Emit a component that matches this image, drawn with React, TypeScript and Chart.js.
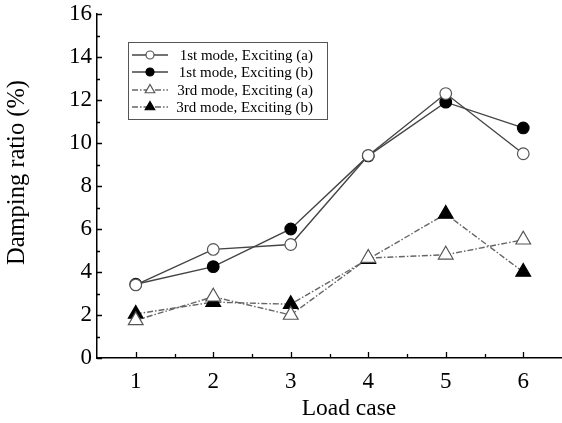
import React, { useEffect, useRef } from "react";
import { Chart, registerables } from "chart.js";

Chart.register(...registerables);

const loadCases = [1, 2, 3, 4, 5, 6];
const mode1A = [3.4, 5.05, 5.28, 9.42, 12.3, 9.5];
const mode1B = [3.43, 4.25, 6.0, 9.4, 11.9, 10.7];
const mode3A = [1.75, 2.85, 2.0, 4.65, 4.8, 5.5];
const mode3B = [2.05, 2.6, 2.5, 4.6, 6.7, 4.0];
const seriesLabels = [
  "1st mode, Exciting (a)",
  "1st mode, Exciting (b)",
  "3rd mode, Exciting (a)",
  "3rd mode, Exciting (b)",
];
const xTitle = "Load case";
const yTitle = "Damping ratio (%)";
const xTickValues = [1, 2, 3, 4, 5, 6];
const xMinorTicks = [1.5, 2.5, 3.5, 4.5, 5.5];
const yTickValues = [0, 2, 4, 6, 8, 10, 12, 14, 16];
const yMinorTicks = [1, 3, 5, 7, 9, 11, 13, 15];

const FONT = "'Liberation Serif', 'Times New Roman', serif";

function drawMarker(ctx: CanvasRenderingContext2D, style: string, x: number, y: number, r: number, fill: string, stroke: string) {
  ctx.save();
  ctx.beginPath();
  if (style === "circle") {
    ctx.arc(x, y, r, 0, Math.PI * 2);
  } else {
    let a = 0;
    ctx.moveTo(x + Math.sin(a) * r, y - Math.cos(a) * r);
    a += (2 * Math.PI) / 3;
    ctx.lineTo(x + Math.sin(a) * r, y - Math.cos(a) * r);
    a += (2 * Math.PI) / 3;
    ctx.lineTo(x + Math.sin(a) * r, y - Math.cos(a) * r);
    ctx.closePath();
  }
  ctx.fillStyle = fill;
  ctx.fill();
  ctx.lineWidth = 1.2;
  ctx.strokeStyle = stroke;
  ctx.stroke();
  ctx.restore();
}

const decorPlugin = {
  id: "decor",
  afterDraw(chart: any) {
    const ctx = chart.ctx as CanvasRenderingContext2D;
    const xs = chart.scales.x;
    const ys = chart.scales.y;
    const area = chart.chartArea;
    ctx.save();
    ctx.strokeStyle = "#000";
    ctx.lineWidth = 1.3;
    ctx.beginPath();
    xTickValues.forEach((v) => {
      const px = Math.round(xs.getPixelForValue(v)) + 0.5;
      ctx.moveTo(px, area.bottom);
      ctx.lineTo(px, area.bottom - 6);
    });
    xMinorTicks.forEach((v) => {
      const px = Math.round(xs.getPixelForValue(v)) + 0.5;
      ctx.moveTo(px, area.bottom);
      ctx.lineTo(px, area.bottom - 4);
    });
    yTickValues.forEach((v) => {
      const py = Math.round(ys.getPixelForValue(v)) + 0.5;
      ctx.moveTo(area.left, py);
      ctx.lineTo(area.left + 5, py);
    });
    yMinorTicks.forEach((v) => {
      const py = Math.round(ys.getPixelForValue(v)) + 0.5;
      ctx.moveTo(area.left, py);
      ctx.lineTo(area.left + 3, py);
    });
    ctx.stroke();

    // axis titles
    ctx.fillStyle = "#000";
    ctx.font = `23.5px ${FONT}`;
    ctx.textAlign = "center";
    ctx.textBaseline = "alphabetic";
    ctx.fillText(xTitle, 349, 415);
    ctx.save();
    ctx.translate(24, 172.5);
    ctx.rotate(-Math.PI / 2);
    ctx.font = `24.5px ${FONT}`;
    ctx.fillText(yTitle, 0, 0);
    ctx.restore();

    // legend
    const bx = 128, by = 42, bw = 199, bh = 77;
    ctx.fillStyle = "#fff";
    ctx.fillRect(bx, by, bw, bh);
    ctx.strokeStyle = "#555";
    ctx.lineWidth = 1;
    ctx.strokeRect(bx + 0.5, by + 0.5, bw, bh);
    const rowY = [55, 72, 90, 107];
    chart.data.datasets.forEach((ds: any, i: number) => {
      const y = rowY[i];
      ctx.save();
      ctx.strokeStyle = ds.borderColor;
      ctx.lineWidth = ds.borderWidth;
      ctx.setLineDash(ds.borderDash || []);
      ctx.beginPath();
      ctx.moveTo(132, y);
      ctx.lineTo(168, y);
      ctx.stroke();
      ctx.restore();
      drawMarker(ctx, ds.pointStyle, 150, y, ds.pointStyle === "circle" ? 4 : 5.5, ds.pointBackgroundColor, ds.pointBorderColor);
      ctx.fillStyle = "#000";
      ctx.font = `15px ${FONT}`;
      ctx.textAlign = "right";
      ctx.textBaseline = "middle";
      ctx.fillText(ds.label, 313, y + 1);
    });
    ctx.restore();
  },
};

export default function App() {
  const ref = useRef<HTMLCanvasElement>(null);
  useEffect(() => {
    if (!ref.current) return;
    const mk = (label: string, data: number[], style: string, filled: boolean, dashed: boolean) => ({
      label,
      data: data.map((v, i) => ({ x: loadCases[i], y: v })),
      borderColor: dashed ? "#666" : "#444",
      borderWidth: 1.4,
      borderDash: dashed ? [6, 2, 1.5, 2] : [],
      pointStyle: style,
      pointRadius: style === "circle" ? 5.8 : 8.5,
      pointBackgroundColor: filled ? "#000" : "#fff",
      pointBorderColor: filled ? "#000" : "#555",
      pointBorderWidth: 1.2,
      tension: 0,
      clip: false,
    });
    const chart = new Chart(ref.current, {
      type: "line",
      data: {
        datasets: [
          mk(seriesLabels[0], mode1A, "circle", false, false),
          mk(seriesLabels[1], mode1B, "circle", true, false),
          mk(seriesLabels[2], mode3A, "triangle", false, true),
          mk(seriesLabels[3], mode3B, "triangle", true, true),
        ] as any,
      },
      options: {
        animation: false,
        responsive: false,
        layout: { autoPadding: false, padding: { top: 14, right: 0, left: 0, bottom: 0 } },
        plugins: { legend: { display: false }, tooltip: { enabled: false } },
        scales: {
          x: {
            type: "linear",
            min: 0.5,
            max: 6.5,
            afterBuildTicks: (s: any) => {
              s.ticks = xTickValues.map((v) => ({ value: v }));
            },
            afterFit: (s: any) => {
              s.height = 65;
              s.paddingLeft = 0;
              s.paddingRight = 0;
            },
            grid: { display: false, drawTicks: false },
            border: { display: true, color: "#000", width: 1.5 },
            ticks: { color: "#000", font: { family: FONT, size: 23 }, padding: 10, autoSkip: false, maxRotation: 0 },
          },
          y: {
            type: "linear",
            min: 0,
            max: 16,
            afterBuildTicks: (s: any) => {
              s.ticks = yTickValues.map((v) => ({ value: v }));
            },
            afterFit: (s: any) => {
              s.width = 97;
              s.paddingTop = 0;
              s.paddingBottom = 0;
            },
            grid: { display: false, drawTicks: false },
            border: { display: true, color: "#000", width: 1.5 },
            ticks: { color: "#000", font: { family: FONT, size: 23 }, padding: 5 },
          },
        },
      } as any,
      plugins: [decorPlugin],
    });
    return () => chart.destroy();
  }, []);
  return (
    <div style={{ position: "fixed", left: 0, top: 0, width: 562, height: 423, background: "#fff" }}>
      <canvas ref={ref} width={562} height={423} style={{ width: 562, height: 423 }} />
    </div>
  );
}
